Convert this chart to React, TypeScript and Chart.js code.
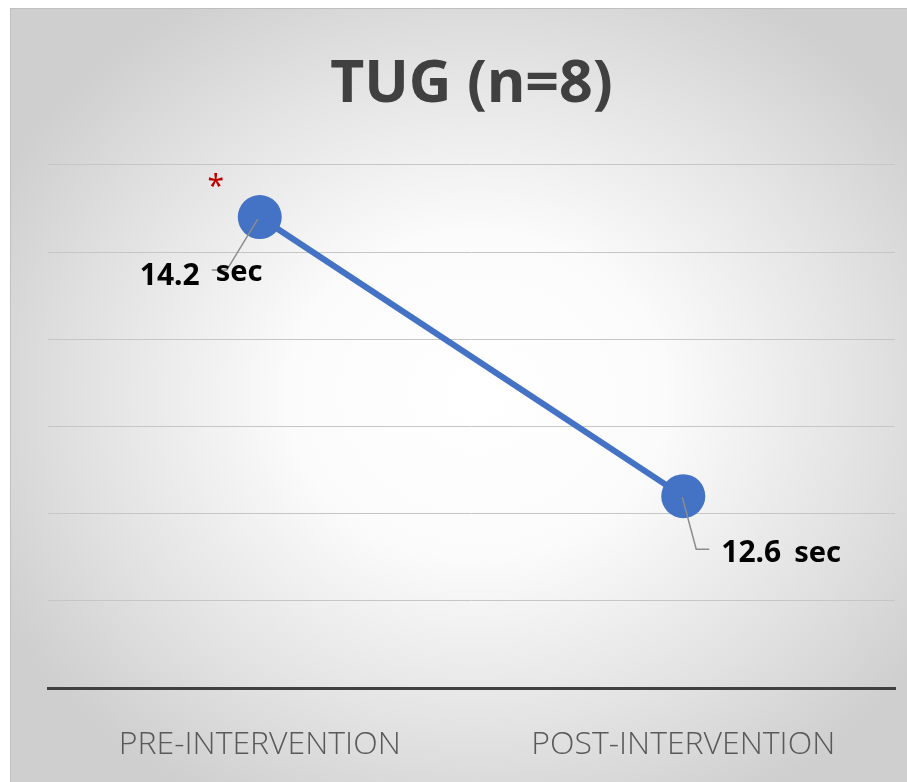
import React, { useEffect, useRef } from "react";
import { Chart, registerables } from "chart.js";

Chart.register(...registerables);

const categories = ["PRE-INTERVENTION", "POST-INTERVENTION"];
const tugSeconds = [14.2, 12.6];
const valueLabels = ["14.2", "12.6"];
const unitLabel = "sec";
const titleText = "TUG (n=8)";
const yMin = 11.5;
const yMax = 14.5;
const yStep = 0.5;

const labelPlugin = {
  id: "tugLabels",
  afterDatasetsDraw(chart: any) {
    const ctx = chart.ctx;
    const meta = chart.getDatasetMeta(0);
    const p0 = meta.data[0];
    const p1 = meta.data[1];
    ctx.save();
    // leader lines
    ctx.strokeStyle = "#8c8c8c";
    ctx.lineWidth = 1.5;
    ctx.beginPath();
    ctx.moveTo(p0.x - 2, p0.y + 2);
    ctx.lineTo(p0.x - 33, p0.y + 53);
    ctx.lineTo(p0.x - 48, p0.y + 53);
    ctx.stroke();
    ctx.beginPath();
    ctx.moveTo(p1.x - 1, p1.y + 1);
    ctx.lineTo(p1.x + 13, p1.y + 53);
    ctx.lineTo(p1.x + 26, p1.y + 53);
    ctx.stroke();

    ctx.fillStyle = "#000000";
    ctx.textBaseline = "alphabetic";
    ctx.textAlign = "left";
    const bigFont = "bold 30px 'Noto Sans', 'Open Sans', sans-serif";
    const unitFont = "bold 29px 'Noto Sans', 'Open Sans', sans-serif";
    // pre label
    ctx.font = bigFont;
    ctx.fillText(valueLabels[0], p0.x - 120, p0.y + 68);
    ctx.font = unitFont;
    ctx.fillText(unitLabel, p0.x - 44, p0.y + 64);
    // post label
    ctx.font = bigFont;
    ctx.fillText(valueLabels[1], p1.x + 38, p1.y + 66);
    ctx.font = unitFont;
    ctx.fillText(unitLabel, p1.x + 111, p1.y + 66);

    // significance asterisk
    ctx.fillStyle = "#C00000";
    ctx.textAlign = "center";
    ctx.textBaseline = "middle";
    ctx.font = "30px 'Noto Sans', sans-serif";
    ctx.fillText("*", p0.x - 44, p0.y - 30);
    ctx.restore();
  },
};

export default function App() {
  const ref = useRef<HTMLCanvasElement>(null);
  useEffect(() => {
    if (!ref.current) return;
    const chart = new Chart(ref.current, {
      type: "line",
      data: {
        labels: categories,
        datasets: [
          {
            data: tugSeconds,
            borderColor: "#4472C4",
            backgroundColor: "#4472C4",
            borderWidth: 6,
            pointRadius: 22,
            pointBackgroundColor: "#4472C4",
            pointBorderColor: "#4472C4",
            pointBorderWidth: 0,
          },
        ],
      },
      options: {
        responsive: false,
        animation: false,
        maintainAspectRatio: false,
        layout: { autoPadding: false, padding: { top: 0, left: 37, right: 12, bottom: 0 } },
        plugins: {
          legend: { display: false },
          tooltip: { enabled: false },
          title: {
            display: true,
            text: titleText,
            color: "#404040",
            font: { family: "'Noto Sans', 'Open Sans', sans-serif", size: 59, weight: "bold" },
            padding: { top: 41, bottom: 44 },
          },
        },
        scales: {
          x: {
            offset: true,
            grid: { display: true, color: "rgba(0,0,0,0)", drawTicks: false },
            border: { display: true, color: "#404040", width: 3 },
            ticks: {
              color: "#595959",
              padding: 38,
              font: { family: "'Open Sans', 'Noto Sans', sans-serif", size: 32, weight: "300" },
              maxRotation: 0,
            },
            afterFit: (s: any) => {
              s.height = 94;
              s.paddingLeft = 0;
              s.paddingRight = 0;
            },
          },
          y: {
            min: yMin,
            max: yMax,
            ticks: { display: false, stepSize: yStep },
            grid: { color: "#c6c6c6", lineWidth: 1, drawTicks: false },
            border: { display: false },
            afterFit: (s: any) => {
              s.width = 0;
            },
          },
        },
      },
      plugins: [labelPlugin],
    });
    return () => chart.destroy();
  }, []);

  return (
    <div
      style={{
        position: "fixed",
        left: 10,
        top: 8,
        width: 897,
        height: 774,
        boxSizing: "border-box",
        borderLeft: "1px solid #bfbfbf",
        borderTop: "1px solid #bfbfbf",
        background:
          "radial-gradient(ellipse 60% 60% at 52% 50%, #ffffff 0%, #fbfbfb 35%, #e4e4e4 70%, #cfcfcf 100%)",
      }}
    >
      <canvas ref={ref} width={896} height={773} style={{ display: "block" }} />
    </div>
  );
}
